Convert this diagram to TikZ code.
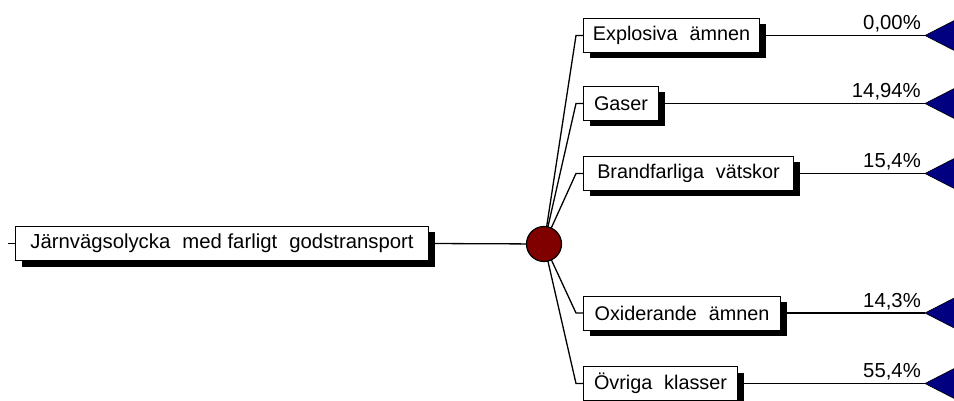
\documentclass[tikz,border=0pt]{standalone}
\usepackage{fontspec}
\setmainfont{Liberation Sans}
\usetikzlibrary{shadows,backgrounds}
\newcommand\dsp{\hspace{0.6em}}
\definecolor{navytri}{RGB}{0,0,128}
\definecolor{chance}{RGB}{128,0,0}
\begin{document}
\begin{tikzpicture}[x=1pt,y=-1pt,
  box/.style={draw=black, line width=1pt, fill=white, minimum height=34pt,
    inner sep=0pt, anchor=west, font=\fontsize{19.8}{22}\selectfont,
    general shadow={fill=black, shadow xshift=6pt, shadow yshift=-6pt}},
  conn/.style={draw=black, line width=1.3pt},
  tri/.style={fill=navytri, draw=black, line width=0.6pt},
  pct/.style={anchor=base east, inner sep=0pt, font=\fontsize{20.3}{22}\selectfont},
  chancenode/.style={circle, draw=black, line width=1.2pt, fill=chance, minimum size=35pt, inner sep=0pt}]
\useasboundingbox (0,0) rectangle (954,401);
\clip (0,0) rectangle (954,401);

% nodes
\node[box, minimum width=413pt, font=\fontsize{20.3}{23}\selectfont] (main) at (15,243.5) {J\"arnv\"agsolycka\dsp med farligt\dsp godstransport};
\node[chancenode] (c) at (544,244) {};
\node[box, minimum width=176pt] (b1) at (583,35.5) {Explosiva\dsp \"amnen};
\node[box, minimum width=75pt] (b2) at (583,103.5) {Gaser};
\node[box, minimum width=210pt] (b3) at (583,173.5) {Brandfarliga\dsp v\"atskor};
\node[box, minimum width=197pt] (b4) at (583,313) {Oxiderande\dsp \"amnen};
\node[box, minimum width=154pt] (b5) at (583,383.5) {\"Ovriga\dsp klasser};

\coordinate (lt) at (8,243.5);
\foreach \i/\y in {1/35.5,2/103.5,3/173.5,4/313,5/383.5}{
  \coordinate (e\i) at (576,\y);
  \coordinate (t\i) at (925,\y);
}

\begin{pgfonlayer}{background}
\draw[conn] (lt) -- (main.west);
\draw[conn] (main.east) -- (c.center);
\foreach \i in {1,...,5}{
  \draw[conn] (c.center) -- (e\i) -- (b\i.west);
  \draw[conn] (b\i.east) -- (t\i);
}
\end{pgfonlayer}

\foreach \i in {1,...,5}{
  \filldraw[tri] (t\i) -- ++(36,-18.5) -- ++(0,37) -- cycle;
}

\node[pct] (p1) at ([xshift=-4pt,yshift=6pt]t1) {0,00\%};
\node[pct] (p2) at ([xshift=-4pt,yshift=6pt]t2) {14,94\%};
\node[pct] (p3) at ([xshift=-4pt,yshift=6pt]t3) {15,4\%};
\node[pct] (p4) at ([xshift=-4pt,yshift=6pt]t4) {14,3\%};
\node[pct] (p5) at ([xshift=-4pt,yshift=6pt]t5) {55,4\%};
\end{tikzpicture}
\end{document}
